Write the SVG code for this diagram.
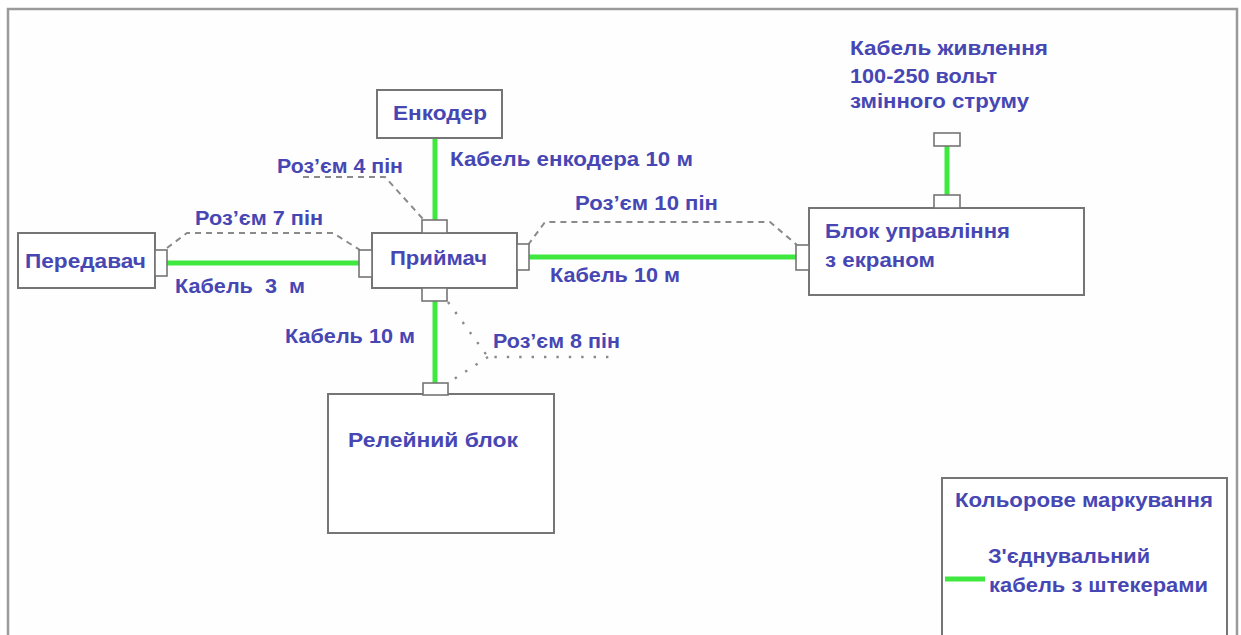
<svg xmlns="http://www.w3.org/2000/svg" width="1241" height="635" viewBox="0 0 1241 635">
<style>
.box{fill:#ffffff;stroke:#757575;stroke-width:2}
.con{fill:#ffffff;stroke:#757575;stroke-width:1.6}
.cab{stroke:#3ee83e;stroke-width:5;fill:none}
.dash{stroke:#8a8a8a;stroke-width:2;fill:none;stroke-dasharray:6 5}
.dot{stroke:#8a8a8a;stroke-width:2.4;fill:none;stroke-dasharray:2.4 10}
text{font-family:"Liberation Sans",Arial,sans-serif;font-weight:bold;font-size:19.5px;fill:#4747b4}
</style>
<rect x="0" y="0" width="1241" height="635" fill="#ffffff"/>
<rect x="8" y="9" width="1229" height="640" fill="#fefefe" stroke="#9a9a9a" stroke-width="2.5"/>

<g id="connectors">
  <line class="cab" x1="167" y1="263" x2="359" y2="263"/>
  <line class="cab" x1="435" y1="138" x2="435" y2="220"/>
  <line class="cab" x1="529" y1="257" x2="796" y2="257"/>
  <line class="cab" x1="435" y1="301" x2="435" y2="383"/>
  <line class="cab" x1="947" y1="146" x2="947" y2="195"/>
  <path class="dash" d="M167,248 L187,233 L333,233 L360,250"/>
  <path class="dash" d="M303,177 L385,177 L423,219"/>
  <path class="dash" d="M528,245 L545,222 L770,222 L797,245"/>
  <path class="dot" d="M448,302 L488,357 L612,357 M488,357 L448,383"/>
  <text x="175" y="293" textLength="130" lengthAdjust="spacingAndGlyphs" xml:space="preserve">Кабель  3  м</text>
  <text x="195" y="225" textLength="128" lengthAdjust="spacingAndGlyphs">Роз’єм 7 пін</text>
  <text x="277" y="173" textLength="126" lengthAdjust="spacingAndGlyphs">Роз’єм 4 пін</text>
  <text x="450" y="166" textLength="243" lengthAdjust="spacingAndGlyphs">Кабель енкодера 10 м</text>
  <text x="575" y="210" textLength="143" lengthAdjust="spacingAndGlyphs">Роз’єм 10 пін</text>
  <text x="550" y="282" textLength="130" lengthAdjust="spacingAndGlyphs">Кабель 10 м</text>
  <text x="285" y="343" textLength="130" lengthAdjust="spacingAndGlyphs">Кабель 10 м</text>
  <text x="493" y="348" textLength="127" lengthAdjust="spacingAndGlyphs">Роз’єм 8 пін</text>
  <text x="850" y="55" textLength="198" lengthAdjust="spacingAndGlyphs">Кабель живлення</text>
  <text x="850" y="83" textLength="147" lengthAdjust="spacingAndGlyphs">100-250 вольт</text>
  <text x="850" y="108" textLength="179" lengthAdjust="spacingAndGlyphs">змінного струму</text>
</g>

<g id="transmitter">
  <rect class="box" x="18" y="233" width="137" height="55"/>
  <rect class="con" x="155" y="250" width="12" height="26"/>
  <text x="25" y="268" textLength="121" lengthAdjust="spacingAndGlyphs">Передавач</text>
</g>

<g id="encoder">
  <rect class="box" x="377" y="90" width="125" height="48"/>
  <text x="393" y="120" textLength="94" lengthAdjust="spacingAndGlyphs">Енкодер</text>
</g>

<g id="receiver">
  <rect class="box" x="372" y="233" width="145" height="55"/>
  <rect class="con" x="359" y="250" width="13" height="27"/>
  <rect class="con" x="422" y="220" width="25" height="13"/>
  <rect class="con" x="517" y="244" width="12" height="26"/>
  <rect class="con" x="422" y="288" width="25" height="13"/>
  <text x="390" y="265" textLength="97" lengthAdjust="spacingAndGlyphs">Приймач</text>
</g>

<g id="control-unit">
  <rect class="box" x="809" y="208" width="275" height="87"/>
  <rect class="con" x="796" y="245" width="13" height="25"/>
  <rect class="con" x="934" y="195" width="26" height="13"/>
  <text x="825" y="238" textLength="185" lengthAdjust="spacingAndGlyphs">Блок управління</text>
  <text x="825" y="267" textLength="110" lengthAdjust="spacingAndGlyphs">з екраном</text>
</g>

<g id="power-plug">
  <rect class="con" x="934" y="133" width="26" height="13"/>
</g>

<g id="relay-unit">
  <rect class="box" x="328" y="394" width="226" height="139"/>
  <rect class="con" x="423" y="383" width="25" height="12"/>
  <text x="348" y="447" textLength="170" lengthAdjust="spacingAndGlyphs">Релейний блок</text>
</g>

<g id="legend">
  <rect class="box" x="942" y="478" width="285" height="160"/>
  <text x="955" y="507" textLength="258" lengthAdjust="spacingAndGlyphs">Кольорове маркування</text>
  <line class="cab" x1="945" y1="579" x2="985" y2="579"/>
  <text x="988" y="563" textLength="162" lengthAdjust="spacingAndGlyphs">З'єднувальний</text>
  <text x="989" y="592" textLength="219" lengthAdjust="spacingAndGlyphs">кабель з штекерами</text>
</g>
</svg>
